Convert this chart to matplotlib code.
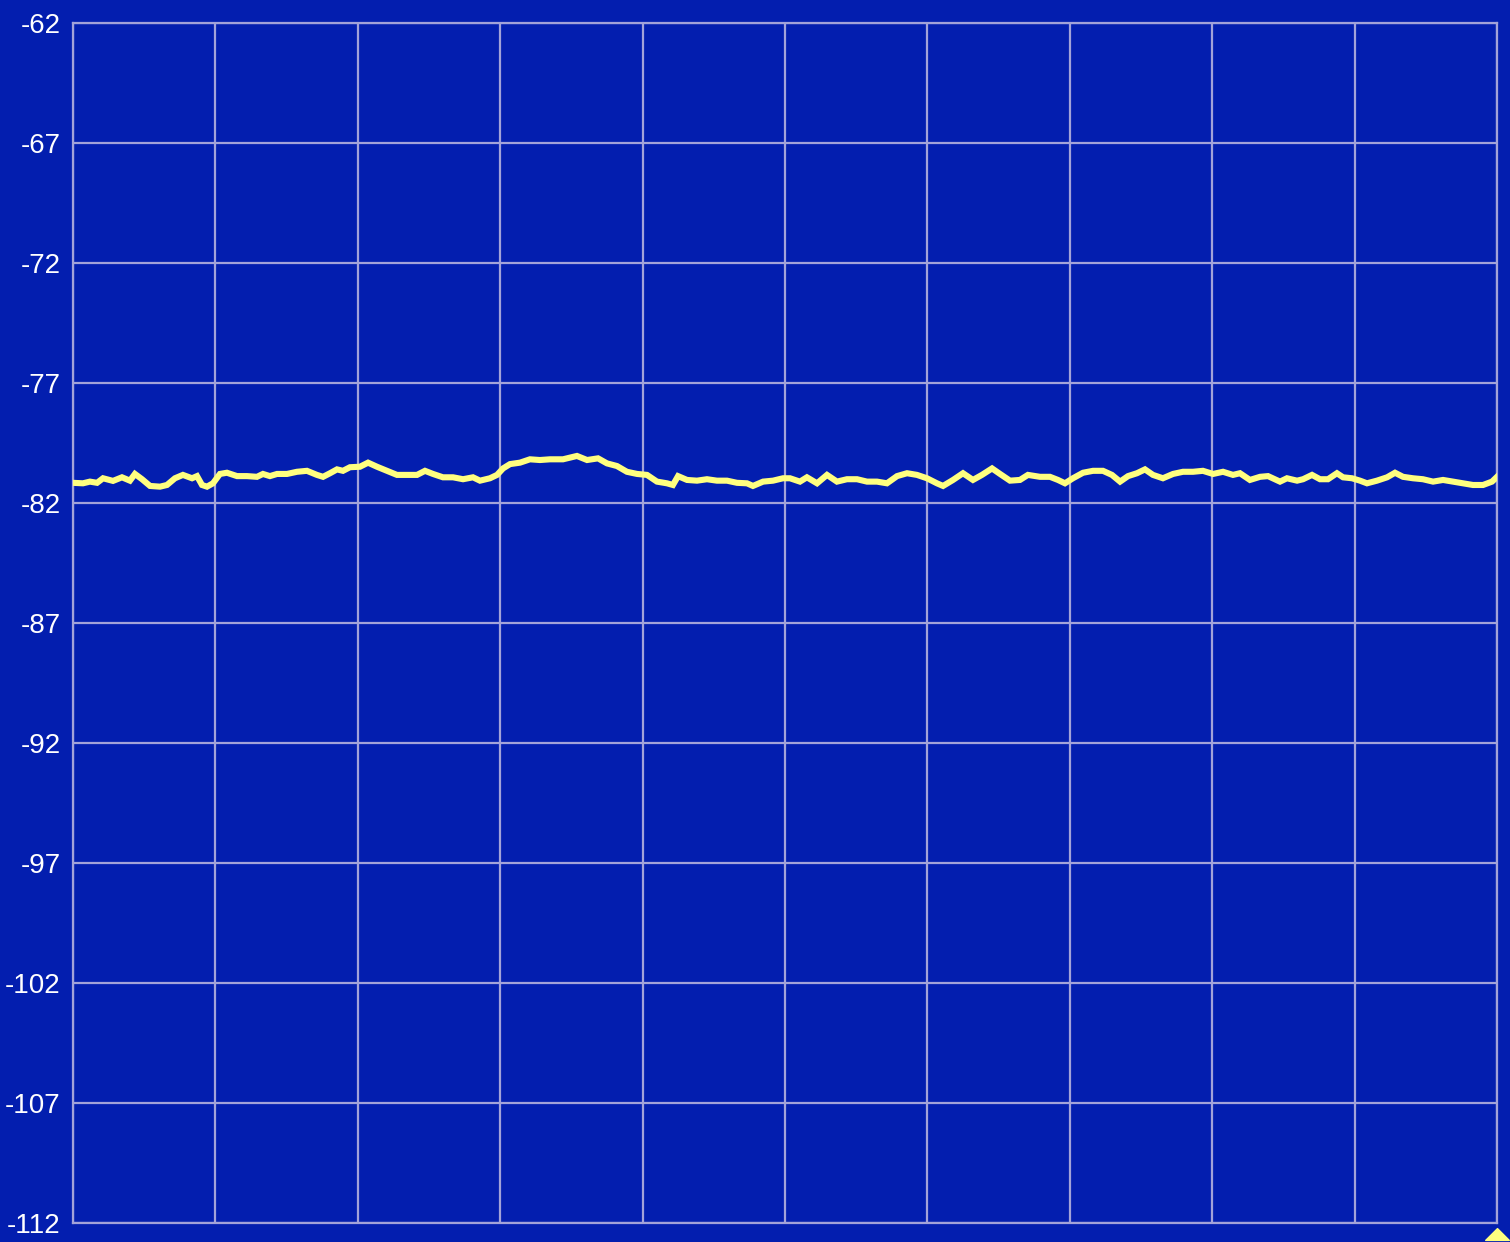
import numpy as np
import matplotlib
matplotlib.use("Agg")
import matplotlib.pyplot as plt
from matplotlib.path import Path

# sweep position (% of span) and measured level (dBm)
sweep_pos = [
    0.0, 0.70, 1.19, 1.69, 2.11, 2.81, 3.44, 4.00, 4.35, 4.85, 5.41, 6.11, 6.60, 7.16, 7.72,
    8.36, 8.71, 9.06, 9.41, 9.83, 10.32, 10.81, 11.52, 12.22, 12.92, 13.34, 13.83, 14.33, 15.03,
    15.73, 16.43, 17.13, 17.56, 18.05, 18.54, 18.96, 19.45, 20.15, 20.72, 21.35, 22.05, 22.75,
    23.46, 24.16, 24.72, 25.28, 25.98, 26.69, 27.39, 28.09, 28.58, 29.28, 29.78, 30.20, 30.69,
    31.39, 32.09, 32.79, 33.50, 34.41, 35.39, 36.10, 36.87, 37.50, 38.20, 38.90, 39.61, 40.31,
    41.01, 41.71, 42.13, 42.49, 43.12, 43.82, 44.52, 45.22, 45.93, 46.63, 47.33, 47.75, 48.46,
    49.16, 49.86, 50.35, 51.05, 51.54, 52.25, 52.95, 53.65, 54.35, 55.06, 55.76, 56.46, 57.16,
    57.87, 58.57, 59.27, 59.97, 60.67, 61.10, 61.80, 62.50, 63.20, 63.83, 64.54, 65.10, 65.80,
    66.50, 67.06, 67.91, 68.61, 69.17, 69.66, 70.22, 70.93, 71.63, 72.33, 72.96, 73.53, 74.09,
    74.72, 75.28, 75.84, 76.54, 77.25, 77.95, 78.65, 79.35, 80.06, 80.76, 81.46, 81.95, 82.65,
    83.36, 83.92, 84.76, 85.25, 85.96, 86.38, 87.01, 87.57, 88.13, 88.76, 89.19, 89.82, 90.38,
    90.87, 91.57, 92.28, 92.84, 93.40, 94.10, 94.80, 95.51, 96.21, 96.91, 97.61, 98.31, 99.02,
    99.65, 100.0,
]
level_dbm = [
    -81.18, -81.20, -81.13, -81.18, -80.99, -81.10, -80.95, -81.09, -80.81, -81.03, -81.31,
    -81.34, -81.27, -80.99, -80.85, -80.99, -80.90, -81.27, -81.34, -81.20, -80.81, -80.76,
    -80.90, -80.90, -80.93, -80.81, -80.90, -80.81, -80.81, -80.72, -80.68, -80.85, -80.93,
    -80.78, -80.62, -80.68, -80.53, -80.51, -80.34, -80.51, -80.68, -80.85, -80.85, -80.85,
    -80.68, -80.81, -80.95, -80.95, -81.03, -80.95, -81.09, -80.99, -80.85, -80.58, -80.40,
    -80.34, -80.20, -80.23, -80.20, -80.20, -80.06, -80.23, -80.16, -80.37, -80.48, -80.72,
    -80.81, -80.85, -81.13, -81.20, -81.27, -80.90, -81.06, -81.09, -81.03, -81.09, -81.09,
    -81.18, -81.20, -81.31, -81.13, -81.09, -80.99, -80.99, -81.13, -80.95, -81.20, -80.85,
    -81.13, -81.03, -81.03, -81.13, -81.13, -81.20, -80.90, -80.78, -80.85, -80.99, -81.20,
    -81.31, -81.06, -80.78, -81.06, -80.85, -80.58, -80.81, -81.09, -81.06, -80.85, -80.93,
    -80.93, -81.06, -81.20, -80.99, -80.76, -80.68, -80.68, -80.85, -81.13, -80.90, -80.78,
    -80.62, -80.85, -80.99, -80.81, -80.72, -80.72, -80.68, -80.81, -80.72, -80.85, -80.78,
    -81.06, -80.93, -80.90, -81.13, -80.99, -81.09, -81.03, -80.85, -81.03, -81.03, -80.78,
    -80.95, -80.99, -81.09, -81.20, -81.09, -80.95, -80.76, -80.93, -80.99, -81.03, -81.13,
    -81.06, -81.13, -81.20, -81.27, -81.27, -81.13, -80.93,
]
y_ticks = [-62, -67, -72, -77, -82, -87, -92, -97, -102, -107, -112]
x_ticks = [0, 10, 20, 30, 40, 50, 60, 70, 80, 90, 100]
marker_pos = 100.0

bg = "#031EAF"
grid_col = "#A3A3D9"
trace_col = "#FFFF80"

fig = plt.figure(figsize=(15.1, 12.42), dpi=100)
fig.patch.set_facecolor(bg)
ax = fig.add_axes([0.04834, 0.0157, 0.94305, 0.96618])
ax.set_facecolor(bg)

ax.plot(sweep_pos, level_dbm, color=trace_col, lw=4.4, solid_joinstyle="miter", zorder=3)

# flat marker triangle below the baseline
tri = Path([(-1, -0.5), (1, -0.5), (0, 0.5), (-1, -0.5)],
           [Path.MOVETO, Path.LINETO, Path.LINETO, Path.CLOSEPOLY])
ax.plot([marker_pos], [-112.46], marker=tri, ms=17, color=trace_col,
        mec=trace_col, clip_on=False, zorder=4)

ax.set_xlim(0, 100)
ax.set_ylim(-112, -62)
ax.set_xticks(x_ticks)
ax.set_yticks(y_ticks)
ax.set_xticklabels([])
ax.set_yticklabels([str(v) for v in y_ticks], family="Liberation Sans",
                   fontsize=20, color="white")
ax.tick_params(length=0, pad=9)
ax.grid(True, color=grid_col, lw=1.6)
for s in ax.spines.values():
    s.set_color(grid_col)
    s.set_linewidth(1.6)

fig.savefig("out.png", dpi=100, facecolor=bg)
